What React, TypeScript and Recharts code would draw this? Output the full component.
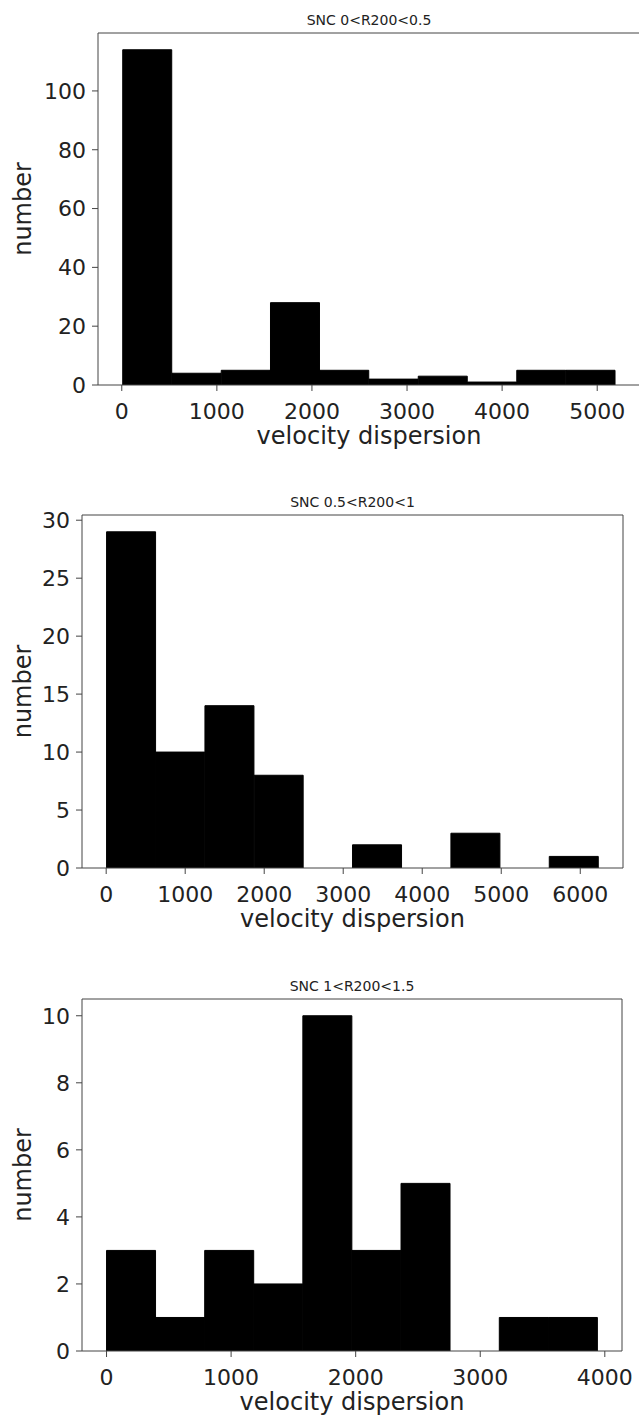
import React from "react";
import { BarChart, Bar, XAxis, YAxis, ReferenceLine } from "recharts";

const FONT = "'DejaVu Sans', sans-serif";

// SNC 0<R200<0.5 : bin centres / counts
const centers1 = [269, 787, 1305, 1823, 2341, 2859, 3377, 3895, 4413, 4931];
const counts1 = [114, 4, 5, 28, 5, 2, 3, 1, 5, 5];
const xTicks1 = [0, 1000, 2000, 3000, 4000, 5000];
const yTicks1 = [0, 20, 40, 60, 80, 100];

// SNC 0.5<R200<1
const centers2 = [316, 939, 1561, 2184, 2806, 3429, 4051, 4674, 5296, 5919];
const counts2 = [29, 10, 14, 8, 0, 2, 0, 3, 0, 1];
const xTicks2 = [0, 1000, 2000, 3000, 4000, 5000, 6000];
const yTicks2 = [0, 5, 10, 15, 20, 25, 30];

// SNC 1<R200<1.5
const centers3 = [197, 591, 985, 1379, 1773, 2167, 2561, 2956, 3350, 3744];
const counts3 = [3, 1, 3, 2, 10, 3, 5, 0, 1, 1];
const xTicks3 = [0, 1000, 2000, 3000, 4000];
const yTicks3 = [0, 2, 4, 6, 8, 10];

interface PanelProps {
  title: string;
  centers: number[];
  counts: number[];
  xTicks: number[];
  yTicks: number[];
  xDomain: [number, number];
  yDomain: [number, number];
  top: number;
  height: number;
  plotLeft: number;
  plotRight: number;
  plotTop: number;
  plotBottom: number;
  chartWidth: number;
}

const tickStyle = { fontSize: 22, fill: "#222", fontFamily: FONT };
const lineColor = "#444";
const Y_AXIS_W = 60;
const X_AXIS_H = 40;

const Panel: React.FC<PanelProps> = (p) => {
  const data = p.centers.map((c, i) => ({ x: c, count: p.counts[i] }));
  const cx = (p.plotLeft + p.plotRight) / 2;
  const cy = (p.plotTop + p.plotBottom) / 2;

  return (
    <div style={{ position: "absolute", left: 0, top: p.top, width: 639, height: p.height }}>
      <BarChart
        width={p.chartWidth}
        height={p.height}
        data={data}
        barCategoryGap={0}
        barGap={0}
        margin={{
          top: p.plotTop,
          left: p.plotLeft - Y_AXIS_W,
          right: p.chartWidth - p.plotRight,
          bottom: p.height - p.plotBottom - X_AXIS_H,
        }}
      >
        <XAxis
          dataKey="x"
          type="number"
          domain={p.xDomain}
          ticks={p.xTicks}
          interval={0}
          allowDataOverflow
          height={X_AXIS_H}
          tick={tickStyle}
          tickSize={6}
          tickMargin={12}
          axisLine={{ stroke: lineColor }}
          tickLine={{ stroke: lineColor }}
        />
        <YAxis
          type="number"
          domain={p.yDomain}
          ticks={p.yTicks}
          interval={0}
          allowDataOverflow
          width={Y_AXIS_W}
          tick={tickStyle}
          tickSize={6}
          tickMargin={6}
          axisLine={{ stroke: lineColor }}
          tickLine={{ stroke: lineColor }}
        />
        <Bar dataKey="count" fill="#000" stroke="#000" strokeWidth={1} isAnimationActive={false} />
        <ReferenceLine y={p.yDomain[1]} stroke={lineColor} ifOverflow="extendDomain" />
        <ReferenceLine x={p.xDomain[1]} stroke={lineColor} ifOverflow="extendDomain" />
      </BarChart>
      <svg
        width={639}
        height={p.height}
        style={{ position: "absolute", left: 0, top: 0, pointerEvents: "none" }}
      >
        <text x={cx} y={p.plotTop - 8} textAnchor="middle" fontSize={14} fill="#222" fontFamily={FONT}>
          {p.title}
        </text>
        <text x={cx} y={p.plotBottom + 59} textAnchor="middle" fontSize={24} fill="#222" fontFamily={FONT}>
          velocity dispersion
        </text>
        <text
          transform={`translate(31, ${cy}) rotate(-90)`}
          textAnchor="middle"
          fontSize={24}
          fill="#222"
          fontFamily={FONT}
        >
          number
        </text>
      </svg>
    </div>
  );
};

export default function App() {
  return (
    <div style={{ position: "relative", width: 639, height: 1425, overflow: "hidden", background: "#fff" }}>
      <style>{`body{margin:0;overflow:hidden;}`}</style>
      <Panel
        title="SNC 0<R200<0.5"
        centers={centers1}
        counts={counts1}
        xTicks={xTicks1}
        yTicks={yTicks1}
        xDomain={[-250, 5450]}
        yDomain={[0, 119.7]}
        top={0}
        height={460}
        plotLeft={98}
        plotRight={640}
        plotTop={33}
        plotBottom={385}
        chartWidth={642}
      />
      <Panel
        title="SNC 0.5<R200<1"
        centers={centers2}
        counts={counts2}
        xTicks={xTicks2}
        yTicks={yTicks2}
        xDomain={[-306, 6541]}
        yDomain={[0, 30.45]}
        top={470}
        height={480}
        plotLeft={82}
        plotRight={623}
        plotTop={45}
        plotBottom={398}
        chartWidth={639}
      />
      <Panel
        title="SNC 1<R200<1.5"
        centers={centers3}
        counts={counts3}
        xTicks={xTicks3}
        yTicks={yTicks3}
        xDomain={[-197, 4138]}
        yDomain={[0, 10.5]}
        top={950}
        height={475}
        plotLeft={82}
        plotRight={622}
        plotTop={49}
        plotBottom={401}
        chartWidth={639}
      />
    </div>
  );
}
